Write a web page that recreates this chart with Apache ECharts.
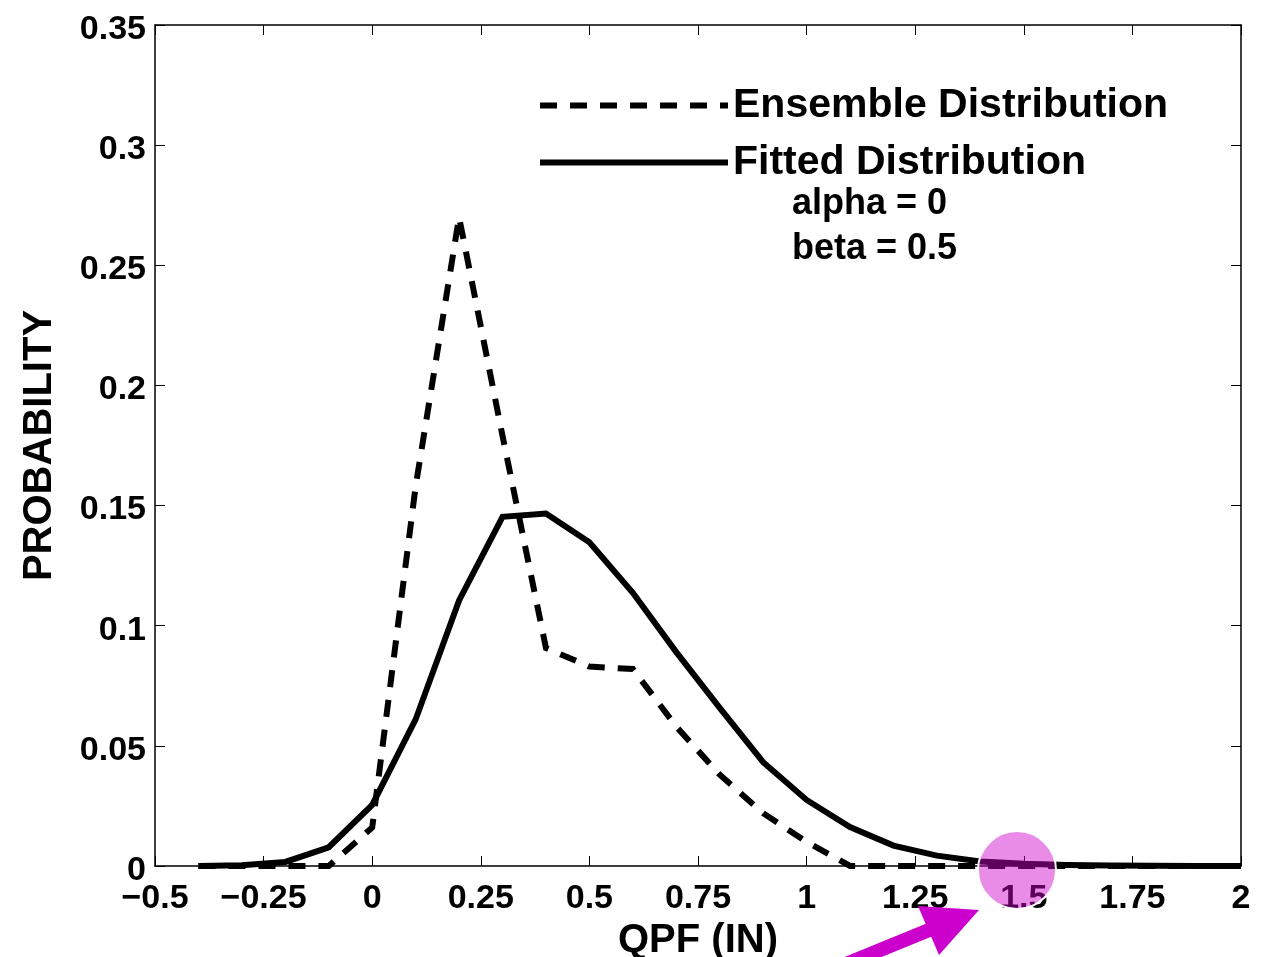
<!DOCTYPE html>
<html>
<head>
<meta charset="utf-8">
<script src="https://cdn.jsdelivr.net/npm/echarts@6/dist/echarts.min.js"></script>
<style>
html,body{margin:0;padding:0;background:#fff;}
#chart{width:1271px;height:957px;}
</style>
</head>
<body>
<div id="chart"></div>
<script>
// QPF bins (inches)
var qpf = [-0.4,-0.3,-0.2,-0.1,0,0.1,0.2,0.3,0.4,0.5,0.6,0.7,0.8,0.9,1.0,1.1,1.2,1.3,1.4,1.5,1.6,1.7,1.8,1.9,2.0];
// Ensemble distribution (dashed)
var ensemble = [0,0,0,0,0.016,0.158,0.27,0.179,0.0907,0.083,0.082,0.058,0.038,0.022,0.010,0,0,0,0,0,0,0,0,0,0];
// Fitted distribution (solid)
var fitted = [0,0.0003,0.0017,0.0078,0.0254,0.061,0.1105,0.1453,0.1467,0.1347,0.1137,0.089,0.0658,0.0432,0.0275,0.0162,0.0085,0.0043,0.0019,0.0009,0.0004,0.0002,0.0001,0,0];
var seriesNames = ['Ensemble Distribution','Fitted Distribution'];
var paramLines = ['alpha = 0','beta = 0.5'];
var xAxisName = 'QPF (IN)';
var yAxisName = 'PROBABILITY';

function pairs(xs, ys){ return xs.map(function(x,i){ return [x, ys[i]]; }); }

var FONT = '"Liberation Sans", Arial, Helvetica, sans-serif';
var chart = echarts.init(document.getElementById('chart'), null, {renderer:'canvas'});

var axisLineStyle = {color:'#000', width:1.5};
var option = {
  animation:false,
  backgroundColor:'#fff',
  grid:{left:155, right:30, top:25, bottom:91, containLabel:false, outerBoundsMode:'none'},
  legend:{
    orient:'vertical', left:537, top:83, padding:0,
    itemWidth:188, itemHeight:14, itemGap:12,
    data:seriesNames,
    itemStyle:{opacity:0},
    lineStyle:{width:6},
    textStyle:{fontFamily:FONT, fontWeight:'bold', fontSize:41, color:'#000', lineHeight:45},
    selectedMode:false
  },
  xAxis:[{
    type:'value', min:-0.5, max:2, interval:0.25,
    name:xAxisName, nameLocation:'middle', nameGap:52,
    nameTextStyle:{fontFamily:FONT, fontWeight:'bold', fontSize:40, color:'#000'},
    axisLine:{show:true, onZero:false, lineStyle:axisLineStyle},
    axisTick:{show:true, inside:true, length:10, lineStyle:{color:'#000', width:1}},
    axisLabel:{show:true, margin:16, fontFamily:FONT, fontWeight:'bold', fontSize:34, color:'#000',
      showMinLabel:true, showMaxLabel:true,
      formatter:function(v){ var s = String(+v.toFixed(2)); return v<0 ? '\u2212'+s.slice(1) : s; }},
    splitLine:{show:false}
  },{
    type:'value', position:'top', min:-0.5, max:2, interval:0.25,
    axisLine:{show:true, onZero:false, lineStyle:axisLineStyle},
    axisTick:{show:true, inside:true, length:10, lineStyle:{color:'#000', width:1}},
    axisLabel:{show:false}, splitLine:{show:false}
  }],
  yAxis:[{
    type:'value', min:0, max:0.35, interval:0.05,
    name:yAxisName, nameLocation:'middle', nameGap:95, nameRotate:90,
    nameTextStyle:{fontFamily:FONT, fontWeight:'bold', fontSize:40, color:'#000'},
    axisLine:{show:true, onZero:false, lineStyle:axisLineStyle},
    axisTick:{show:true, inside:true, length:10, lineStyle:{color:'#000', width:1}},
    axisLabel:{show:true, margin:9, fontFamily:FONT, fontWeight:'bold', fontSize:34, color:'#000',
      formatter:function(v){ return '{a|' + String(+v.toFixed(2)) + '}'; },
      rich:{a:{fontFamily:FONT, fontWeight:'bold', fontSize:34, color:'#000', padding:[9,0,0,0]}}},
    splitLine:{show:false}
  },{
    type:'value', position:'right', min:0, max:0.35, interval:0.05,
    axisLine:{show:true, onZero:false, lineStyle:axisLineStyle},
    axisTick:{show:true, inside:true, length:10, lineStyle:{color:'#000', width:1}},
    axisLabel:{show:false}, splitLine:{show:false}
  }],
  series:[{
    name:seriesNames[0], type:'line', data:pairs(qpf, ensemble),
    symbol:'none', smooth:false, z:3,
    lineStyle:{color:'#000', width:6, type:[17,13], cap:'butt', join:'miter'},
    itemStyle:{color:'#000'}
  },{
    name:seriesNames[1], type:'line', data:pairs(qpf, fitted),
    symbol:'none', smooth:false, z:4,
    lineStyle:{color:'#000', width:6, type:'solid', join:'miter'},
    itemStyle:{color:'#000'}
  }],
  graphic:[
    {type:'text', left:792, top:186, z:10,
     style:{text:paramLines[0], fontFamily:FONT, fontWeight:'bold', fontSize:36, fill:'#000'}},
    {type:'text', left:792, top:231, z:10,
     style:{text:paramLines[1], fontFamily:FONT, fontWeight:'bold', fontSize:36, fill:'#000'}},
    {type:'circle', z:100, shape:{cx:1017, cy:870, r:39},
     style:{fill:'rgba(204,0,204,0.45)', stroke:'#ffffff', lineWidth:2}},
    {type:'line', z:100, shape:{x1:846, y1:964, x2:934, y2:928},
     style:{stroke:'#cc00cc', lineWidth:14}},
    {type:'polygon', z:100, shape:{points:[[918,906],[979,910],[939,955]]},
     style:{fill:'#cc00cc'}}
  ]
};
chart.setOption(option);
</script>
</body>
</html>
